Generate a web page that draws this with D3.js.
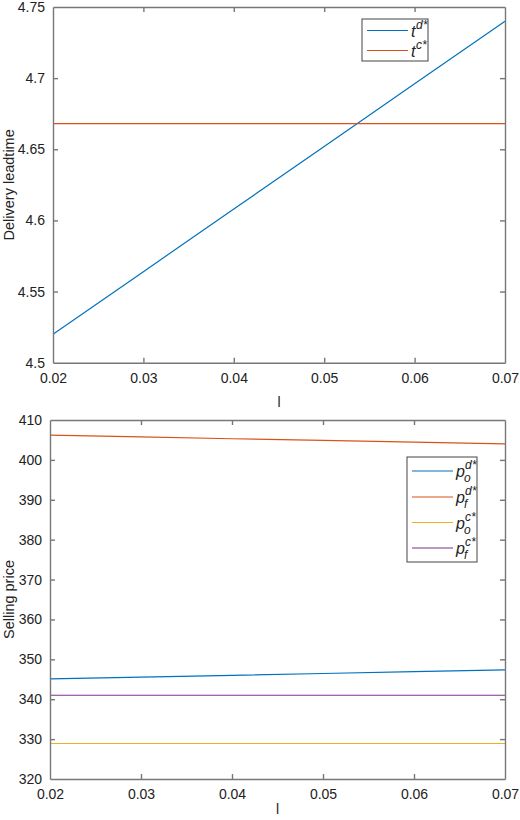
<!DOCTYPE html>
<html>
<head>
<meta charset="utf-8">
<script src="https://cdn.jsdelivr.net/npm/d3@7"></script>
<style>
  html, body { margin: 0; padding: 0; background: #fff; }
  svg { display: block; font-family: "Liberation Sans", Arial, sans-serif; }
</style>
</head>
<body>
<svg id="chart" width="520" height="820"></svg>
<script>
// data
const lValues = [0.02, 0.03, 0.04, 0.05, 0.06, 0.07];
const tD  = [4.520, 4.564, 4.608, 4.652, 4.696, 4.740];
const tC  = [4.668, 4.668, 4.668, 4.668, 4.668, 4.668];
const poD = [345.1, 345.55, 346.0, 346.45, 346.9, 347.35];
const pfD = [406.2, 405.75, 405.3, 404.9, 404.45, 404.0];
const poC = [328.9, 328.9, 328.9, 328.9, 328.9, 328.9];
const pfC = [341.0, 341.0, 341.0, 341.0, 341.0, 341.0];

const xTicks = [0.02, 0.03, 0.04, 0.05, 0.06, 0.07];
const topYTicks = [4.5, 4.55, 4.6, 4.65, 4.7, 4.75];
const botYTicks = [320, 330, 340, 350, 360, 370, 380, 390, 400, 410];

const BLUE = '#0072BD', ORANGE = '#D95319', YELLOW = '#EDB120', PURPLE = '#7E2F8E';
const AXIS = '#777';

const svg = d3.select('#chart');

function panel({ left, right, top, bottom, xLabelY, yDomain, yTicks, yLabel, series }) {
  const x = d3.scaleLinear().domain([0.02, 0.07]).range([left, right]);
  const y = d3.scaleLinear().domain(yDomain).range([bottom, top]);
  const g = svg.append('g');

  // lines
  const line = d3.line().x((d, i) => x(lValues[i])).y(d => y(d));
  series.forEach(s => {
    g.append('path').datum(s.values)
      .attr('d', line).attr('fill', 'none')
      .attr('stroke', s.color).attr('stroke-width', 1.2);
  });

  // axes, ticks inside, box on
  const tl = 5;
  const axB = g.append('g').attr('transform', `translate(0,${bottom})`)
    .call(d3.axisBottom(x).tickValues(xTicks).tickSizeInner(-tl).tickSizeOuter(0).tickPadding(10)
      .tickFormat(d3.format('.2f')));
  const axT = g.append('g').attr('transform', `translate(0,${top})`)
    .call(d3.axisTop(x).tickValues(xTicks).tickSizeInner(-tl).tickSizeOuter(0).tickFormat(''));
  const axL = g.append('g').attr('transform', `translate(${left},0)`)
    .call(d3.axisLeft(y).tickValues(yTicks).tickSizeInner(-tl).tickSizeOuter(0).tickPadding(8)
      .tickFormat(d => String(d)));
  const axR = g.append('g').attr('transform', `translate(${right},0)`)
    .call(d3.axisRight(y).tickValues(yTicks).tickSizeInner(-tl).tickSizeOuter(0).tickFormat(''));

  [axB, axT, axL, axR].forEach(a => {
    a.select('.domain').attr('stroke', AXIS).attr('stroke-width', 1.4);
    a.selectAll('.tick line').attr('stroke', AXIS).attr('stroke-width', 1.4);
    a.selectAll('.tick text').attr('fill', '#222').attr('font-size', 14)
      .attr('font-family', '"Liberation Sans", Arial, sans-serif');
  });
  // ticks at the box corners are hidden by the frame anyway
  [axB, axT].forEach(a => a.selectAll('.tick line').filter(d => d === 0.02 || d === 0.07).remove());
  [axL, axR].forEach(a => a.selectAll('.tick line').filter(d => d === yDomain[0] || d === yDomain[1]).remove());

  // axis labels
  g.append('text').attr('x', (left + right) / 2).attr('y', xLabelY)
    .attr('text-anchor', 'middle').attr('font-size', 14).attr('fill', '#222').text('l');
  g.append('text')
    .attr('transform', `translate(14,${(top + bottom) / 2}) rotate(-90)`)
    .attr('text-anchor', 'middle').attr('font-size', 14.5).attr('fill', '#222').text(yLabel);

  return { x, y, g };
}

panel({
  left: 53, right: 505, top: 7, bottom: 362.7, xLabelY: 407,
  yDomain: [4.5, 4.75], yTicks: topYTicks, yLabel: 'Delivery leadtime',
  series: [{ values: tD, color: BLUE }, { values: tC, color: ORANGE }]
});

panel({
  left: 50, right: 505, top: 420, bottom: 779, xLabelY: 814,
  yDomain: [320, 410], yTicks: botYTicks, yLabel: 'Selling price',
  series: [
    { values: poD, color: BLUE }, { values: pfD, color: ORANGE },
    { values: poC, color: YELLOW }, { values: pfC, color: PURPLE }
  ]
});

// legends
function legend(x0, y0, w, h, items, rowY) {
  const lg = svg.append('g');
  lg.append('rect').attr('x', x0).attr('y', y0).attr('width', w).attr('height', h)
    .attr('fill', '#fff').attr('stroke', '#444').attr('stroke-width', 1);
  items.forEach((it, i) => {
    const yy = rowY[i];
    lg.append('line').attr('x1', x0 + 5).attr('x2', x0 + 46).attr('y1', yy).attr('y2', yy)
      .attr('stroke', it.color).attr('stroke-width', 1.2);
    const tx = x0 + 49;
    lg.append('text').attr('x', tx).attr('y', yy + 6).attr('font-size', 16)
      .attr('font-style', 'italic').attr('fill', '#222').text(it.base);
    lg.append('text').attr('x', tx + (it.base === 't' ? 5 : 9)).attr('y', yy - 2).attr('font-size', 12)
      .attr('font-style', 'italic').attr('fill', '#222').text(it.sup);
    if (it.sub) {
      lg.append('text').attr('x', tx + 8).attr('y', yy + 11).attr('font-size', 12)
        .attr('font-style', 'italic').attr('fill', '#222').text(it.sub);
    }
  });
}

legend(362, 19, 66, 42,
  [{ color: BLUE, base: 't', sup: 'd*' }, { color: ORANGE, base: 't', sup: 'c*' }],
  [30.5, 50.5]);

legend(407, 457, 70, 105,
  [
    { color: BLUE, base: 'p', sup: 'd*', sub: 'o' },
    { color: ORANGE, base: 'p', sup: 'd*', sub: 'f' },
    { color: YELLOW, base: 'p', sup: 'c*', sub: 'o' },
    { color: PURPLE, base: 'p', sup: 'c*', sub: 'f' }
  ],
  [471, 497, 522.5, 548]);
</script>
</body>
</html>
